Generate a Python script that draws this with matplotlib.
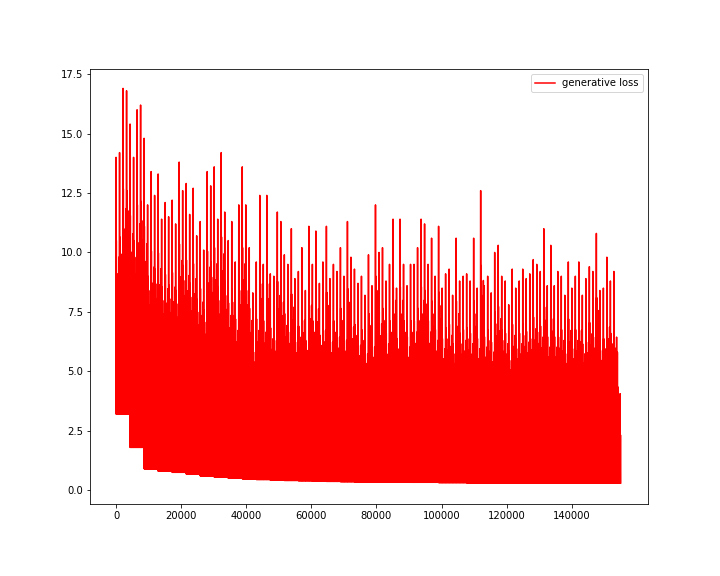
import numpy as np
import matplotlib
matplotlib.use("Agg")
import matplotlib.pyplot as plt

peaks = [14,14.2,16.9,16.8,15.4,14,16,16.2,14.8,12,13.4,12.4,13.3,11.4,12.1,11.5,12.2,11.2,13.8,12.6,
         12.9,11.6,12.7,10.7,11.3,10.1,13.4,12.8,13.6,11.4,14.2,11.7,10.5,11.3,9.6,12.0,13.6,12.0,10.2,8.3,
         9.6,12.4,9.5,12.4,9.1,9.0,11.7,11.3,9.9,9.5,11.0,8.9,9.2,10.2,8.4,11.1,9.5,10.9,8.7,9.6,
         11.1,8.9,9.5,9.2,10.2,9.0,11.3,9.8,9.3,8.7,9.0,8.2,9.9,8.6,12.0,10.0,10.2,8.8,9.5,11.4,
         8.5,11.4,9.5,8.6,9.5,9.5,10.2,11.4,11.2,9.5,10.6,9.0,11.1,8.5,9.1,9.3,8.2,10.6,8.8,9.0,
         9.1,8.8,10.6,8.5,12.6,8.6,9.0,8.3,10.0,10.3,9.0,8.8,7.8,9.3,8.5,8.8,9.3,8.9,9.1,9.7,
         9.5,9.2,11.0,8.6,10.3,8.6,9.2,9.0,8.2,9.6,8.5,9.0,9.6,8.2,8.9,9.4,9.2,10.8,8.4,8.5,
         9.8,8.8,9.2,5.8]
floor_vals = [3.2,1.8,0.9,0.8,0.75,0.68,0.6,0.55,0.5,0.48,0.45,0.42,0.41,0.4,0.38,0.37,0.36,0.35,0.35,0.34,
              0.34,0.33,0.33,0.32,0.32,0.31,0.31,0.3,0.3,0.3,0.3,0.3,0.3,0.3,0.3,0.3,0.3,0.3,0.3,0.3,
              0.3,0.3,0.3,0.3,0.3,0.3,0.3]
sub = [0.75, 0.45, 0.65, 0.35, 0.55, 0.5, 0.7, 0.4]

n = len(peaks)
xp = np.linspace(0, 154000, n)
seg = int(np.ceil(n / len(floor_vals)))
fl = np.repeat(floor_vals, seg)[:n]
xs, ys = [0], [5.0]
step = xp[1] - xp[0]
for i in range(n):
    xs.append(xp[i]); ys.append(peaks[i])
    xs.append(xp[i] + step * 0.04); ys.append(fl[i])
    for k, s in enumerate(sub):
        xs.append(xp[i] + step * (0.08 + 0.115 * k)); ys.append(peaks[i] * s)
        xs.append(xp[i] + step * (0.135 + 0.115 * k)); ys.append(fl[i])
fig = plt.figure(figsize=(10, 8), dpi=72)
fig.subplots_adjust(bottom=0.125, top=0.88)
ax = fig.add_subplot(111)
ax.plot(xs, ys, color='red', label='generative loss')
ax.set_xlim(-8000, 163400)
ax.set_ylim(-0.58, 17.71)
ax.set_xticks(np.arange(0, 140001, 20000))
ax.legend(loc='upper right')
fig.savefig('out.png', dpi=72)
